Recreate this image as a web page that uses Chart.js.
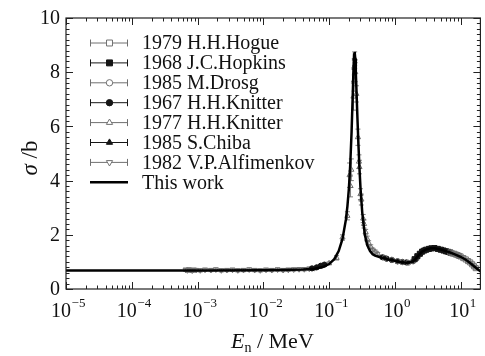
<!DOCTYPE html>
<html>
<head>
<meta charset="utf-8">
<script src="https://cdn.jsdelivr.net/npm/chart.js@4.4.1/dist/chart.umd.min.js"></script>
<style>
  html, body { margin: 0; padding: 0; background: #fff; }
  canvas { display: block; }
</style>
</head>
<body>
<canvas id="c" width="485" height="356"></canvas>
<script>
// ---- evaluated cross section (MeV, barn) ----
const curveE = [1e-5, 1e-4, 1e-3, 0.01, 0.02, 0.04, 0.06, 0.08, 0.10, 0.12, 0.14, 0.16, 0.18, 0.19,
  0.20, 0.21, 0.22, 0.23, 0.235, 0.24, 0.245, 0.25, 0.255, 0.26, 0.27, 0.28, 0.29, 0.30, 0.32,
  0.35, 0.38, 0.42, 0.46, 0.50, 0.60, 0.70, 0.80, 1.0, 1.2, 1.5, 1.8, 2.0, 2.3, 2.6, 3.0, 3.5,
  4.0, 5.0, 6.0, 7.0, 8.0, 10, 12, 14, 16, 18, 20];
const curveS = [0.68, 0.68, 0.68, 0.69, 0.70, 0.72, 0.75, 0.81, 0.92, 1.10, 1.40, 1.85, 2.55, 3.05,
  3.70, 4.60, 5.80, 7.30, 8.10, 8.65, 8.75, 8.50, 8.00, 7.45, 6.30, 5.30, 4.45, 3.75, 2.80,
  2.00, 1.62, 1.40, 1.28, 1.23, 1.17, 1.13, 1.09, 1.04, 1.00, 0.97, 1.00, 1.07, 1.25, 1.38, 1.46, 1.50,
  1.50, 1.46, 1.40, 1.34, 1.29, 1.19, 1.08, 0.96, 0.84, 0.74, 0.65];

// ---- measurements ----
const hogueE = [7.0, 7.5, 8.0, 8.5, 9.0, 9.5, 10, 11, 12, 13, 14, 15, 16, 17];
const hogueS = [1.35, 1.31, 1.30, 1.27, 1.25, 1.22, 1.20, 1.14, 1.09, 1.03, 0.98, 0.91, 0.84, 0.77];
const hogueErr = [0.04, 0.04, 0.04, 0.04, 0.04, 0.04, 0.04, 0.04, 0.04, 0.04, 0.04, 0.04, 0.04, 0.04];

const hopkinsE = [2.0, 2.2, 2.4, 2.6, 2.8, 3.0, 3.3, 3.6, 4.0, 4.5, 5.0, 5.5, 6.0, 6.5, 7.0];
const hopkinsS = [1.10, 1.21, 1.30, 1.38, 1.42, 1.45, 1.48, 1.50, 1.51, 1.48, 1.45, 1.42, 1.39, 1.37, 1.34];
const hopkinsErr = [0.03, 0.03, 0.03, 0.03, 0.03, 0.03, 0.03, 0.03, 0.03, 0.03, 0.03, 0.03, 0.03, 0.03, 0.03];

const drosgE = [0.70, 0.90, 1.10, 1.30, 1.60, 1.90, 2.20, 2.50];
const drosgS = [1.15, 1.08, 1.03, 0.99, 0.97, 1.02, 1.18, 1.33];
const drosgErr = [0.04, 0.04, 0.04, 0.04, 0.04, 0.04, 0.04, 0.04];

const knitter67E = [0.055, 0.065, 0.075, 0.085, 0.65, 0.75, 0.90, 1.10, 1.30, 1.50];
const knitter67S = [0.76, 0.80, 0.86, 0.90, 1.17, 1.12, 1.07, 1.02, 1.00, 0.98];
const knitter67Err = [0.04, 0.04, 0.04, 0.04, 0.04, 0.04, 0.04, 0.04, 0.04, 0.04];

const knitter77E = [0.10, 0.13, 0.16, 0.19, 0.205, 0.212, 0.218, 0.235, 0.24, 0.242, 0.245, 0.25, 0.26,
  0.275, 0.285, 0.29, 0.30, 0.31, 0.33, 0.34, 0.36, 0.38, 0.40, 0.43, 0.46, 0.50, 0.55];
const knitter77S = [0.95, 1.15, 1.90, 2.70, 4.20, 3.80, 4.40, 7.10, 7.70, 8.20, 8.50, 8.00, 7.20,
  5.60, 4.70, 4.50, 3.50, 3.30, 2.60, 2.40, 2.10, 1.85, 1.70, 1.55, 1.45, 1.38, 1.30];
const knitter77Err = [0.05, 0.08, 0.10, 0.15, 0.45, 0.40, 0.40, 0.50, 0.40, 0.30, 0.25, 0.35, 0.30,
  0.30, 0.25, 0.25, 0.20, 0.20, 0.15, 0.15, 0.10, 0.10, 0.08, 0.08, 0.06, 0.06, 0.05];

const chibaE = [1.8, 2.1, 2.4, 2.8, 3.2, 4.2, 5.5, 6.8];
const chibaS = [1.00, 1.12, 1.30, 1.42, 1.47, 1.50, 1.43, 1.36];
const chibaErr = [0.03, 0.03, 0.03, 0.03, 0.03, 0.03, 0.03, 0.03];

const alfimenkovE = [6.6e-4, 7.0e-4, 7.4e-4, 7.8e-4, 8.3e-4, 8.8e-4, 9.5e-4, 1.1e-3, 1.3e-3, 1.6e-3,
  1.9e-3, 2.3e-3, 2.8e-3, 3.4e-3, 4.1e-3, 5.0e-3, 6.1e-3, 7.4e-3, 9.0e-3, 0.011, 0.0135, 0.0165,
  0.020, 0.024, 0.029, 0.035, 0.042, 0.050, 0.060];
const alfimenkovS = [0.71, 0.69, 0.72, 0.70, 0.68, 0.71, 0.70, 0.69, 0.71, 0.70, 0.72, 0.69, 0.70,
  0.71, 0.69, 0.70, 0.72, 0.70, 0.69, 0.71, 0.70, 0.72, 0.70, 0.71, 0.72, 0.73, 0.73, 0.75, 0.77];
const alfimenkovErr = 0.06;

// ---- axes ----
const xMin = 1e-5, xMax = 20;
const yMin = 0, yMax = 10;
const yMajorTicks = [0, 2, 4, 6, 8, 10];
const xDecades = [-5, -4, -3, -2, -1, 0, 1];

const SERIF = '"Liberation Serif", "Times New Roman", serif';
const GREY = '#707070';
const DARK = '#151515';

function toPoints(E, S, err) {
  return E.map((e, i) => ({ x: e, y: S[i], err: Array.isArray(err) ? err[i] : (err || 0) }));
}

function measured(label, E, S, err, pointStyle, filled, color, radius, rotation) {
  return {
    label,
    data: toPoints(E, S, err),
    showLine: false,
    pointStyle,
    rotation: rotation || 0,
    pointRadius: radius,
    pointHoverRadius: radius,
    pointBorderWidth: 1,
    borderColor: color,
    backgroundColor: filled ? color : 'rgba(255,255,255,0)',
    pointBorderColor: color,
    pointBackgroundColor: filled ? color : 'rgba(255,255,255,0)',
    order: 5
  };
}

const datasets = [
  measured('1979 H.H.Hogue', hogueE, hogueS, hogueErr, 'rect', false, GREY, 3.6),
  measured('1968 J.C.Hopkins', hopkinsE, hopkinsS, hopkinsErr, 'rect', true, DARK, 3.6),
  measured('1985 M.Drosg', drosgE, drosgS, drosgErr, 'circle', false, GREY, 2.6),
  measured('1967 H.H.Knitter', knitter67E, knitter67S, knitter67Err, 'circle', true, DARK, 2.6),
  measured('1977 H.H.Knitter', knitter77E, knitter77S, knitter77Err, 'triangle', false, GREY, 3.0),
  measured('1985 S.Chiba', chibaE, chibaS, chibaErr, 'triangle', true, DARK, 3.0),
  measured('1982 V.P.Alfimenkov', alfimenkovE, alfimenkovS, alfimenkovErr, 'triangle', false, GREY, 3.0, 180),
  {
    label: 'This work',
    data: toPoints(curveE, curveS, 0),
    showLine: true,
    borderColor: '#000',
    borderWidth: 2.5,
    pointRadius: 0,
    pointHoverRadius: 0,
    tension: 0,
    fill: false,
    order: 0
  }
];

// error bars, drawn underneath the markers
const errorBars = {
  id: 'errorBars',
  beforeDatasetsDraw(chart) {
    const { ctx, scales: { x, y } } = chart;
    ctx.save();
    chart.data.datasets.forEach(ds => {
      if (ds.showLine) return;
      ctx.strokeStyle = ds.borderColor;
      ctx.lineWidth = 0.9;
      ds.data.forEach(p => {
        if (!p.err) return;
        const px = x.getPixelForValue(p.x);
        const top = y.getPixelForValue(p.y + p.err);
        const bot = y.getPixelForValue(p.y - p.err);
        ctx.beginPath();
        ctx.moveTo(px, top); ctx.lineTo(px, bot);
        ctx.moveTo(px - 2.5, top); ctx.lineTo(px + 2.5, top);
        ctx.moveTo(px - 2.5, bot); ctx.lineTo(px + 2.5, bot);
        ctx.stroke();
      });
    });
    ctx.restore();
  }
};

// frame, inward ticks, tick labels, axis titles and legend
const frame = {
  id: 'frame',
  afterDraw(chart) {
    const { ctx, chartArea: a, scales: { x, y } } = chart;
    ctx.save();
    ctx.strokeStyle = '#222';
    ctx.lineWidth = 1.2;
    ctx.strokeRect(a.left, a.top, a.right - a.left, a.bottom - a.top);

    ctx.lineWidth = 1;
    ctx.beginPath();
    // x ticks (bottom and top, pointing inwards)
    xDecades.forEach(d => {
      for (let k = 1; k <= 9; k++) {
        const v = k * Math.pow(10, d);
        if (v < xMin || v > xMax) continue;
        const px = Math.round(x.getPixelForValue(v)) + 0.5;
        const len = k === 1 ? 7 : 3.5;
        ctx.moveTo(px, a.bottom); ctx.lineTo(px, a.bottom - len);
        ctx.moveTo(px, a.top); ctx.lineTo(px, a.top + len);
      }
    });
    // y ticks (left and right, pointing inwards)
    for (let i = 0; i <= 50; i++) {
      const v = yMin + i * 0.2;
      const py = Math.round(y.getPixelForValue(v)) + 0.5;
      const len = i % 10 === 0 ? 7 : 3.5;
      ctx.moveTo(a.left, py); ctx.lineTo(a.left + len, py);
      ctx.moveTo(a.right, py); ctx.lineTo(a.right - len, py);
    }
    ctx.stroke();

    ctx.fillStyle = '#111';
    // y tick labels
    ctx.font = '20px ' + SERIF;
    ctx.textAlign = 'right';
    ctx.textBaseline = 'middle';
    yMajorTicks.forEach(v => ctx.fillText(String(v), a.left - 6, y.getPixelForValue(v) + 1));

    // x tick labels: 10 with a superscript exponent
    ctx.textAlign = 'left';
    ctx.textBaseline = 'alphabetic';
    xDecades.forEach(d => {
      const px = x.getPixelForValue(Math.pow(10, d));
      const exp = d < 0 ? '\u2212' + Math.abs(d) : String(d);
      ctx.font = '20px ' + SERIF;
      const wb = ctx.measureText('10').width;
      ctx.font = '13px ' + SERIF;
      const we = ctx.measureText(exp).width;
      const x0 = px - (wb + we) / 2 + 2;
      ctx.font = '20px ' + SERIF;
      ctx.fillText('10', x0, 317);
      ctx.font = '13px ' + SERIF;
      ctx.fillText(exp, x0 + wb + 0.5, 307);
    });

    // x axis title: E_n / MeV
    let tx = 231;
    ctx.font = 'italic 22px ' + SERIF;
    ctx.fillText('E', tx, 348);
    tx += ctx.measureText('E').width;
    ctx.font = '14px ' + SERIF;
    ctx.fillText('n', tx, 352);
    tx += ctx.measureText('n').width;
    ctx.font = '22px ' + SERIF;
    ctx.fillText(' / MeV', tx, 348);

    // y axis title: sigma / b (rotated)
    ctx.save();
    ctx.translate(36.5, 158);
    ctx.rotate(-Math.PI / 2);
    ctx.font = 'italic 23px ' + SERIF;
    const ws = ctx.measureText('\u03c3').width;
    ctx.font = '23px ' + SERIF;
    const wr = ctx.measureText(' /b').width;
    const sx = -(ws + wr) / 2;
    ctx.font = 'italic 23px ' + SERIF;
    ctx.fillText('\u03c3', sx, 0);
    ctx.font = '23px ' + SERIF;
    ctx.fillText(' /b', sx + ws, 0);
    ctx.restore();

    // legend
    const rowTop = 43, rowGap = 19.9;
    const lx0 = 90, lx1 = 128, lmid = 109.5, textX = 142;
    chart.data.datasets.forEach((ds, i) => {
      const ry = rowTop + i * rowGap;
      if (ds.showLine) {
        ctx.strokeStyle = ds.borderColor;
        ctx.lineWidth = ds.borderWidth;
        ctx.beginPath();
        ctx.moveTo(lx0, ry); ctx.lineTo(lx1, ry);
        ctx.stroke();
      } else {
        ctx.strokeStyle = ds.borderColor;
        ctx.lineWidth = 1;
        ctx.beginPath();
        ctx.moveTo(lx0, ry); ctx.lineTo(lx1, ry);
        ctx.moveTo(lx0 + 0.5, ry - 3.5); ctx.lineTo(lx0 + 0.5, ry + 3.5);
        ctx.moveTo(lx1 - 0.5, ry - 3.5); ctx.lineTo(lx1 - 0.5, ry + 3.5);
        ctx.stroke();
        ctx.fillStyle = ds.pointBackgroundColor === 'rgba(255,255,255,0)' ? '#fff' : ds.pointBackgroundColor;
        ctx.strokeStyle = ds.pointBorderColor;
        ctx.lineWidth = 1;
        Chart.helpers.drawPoint(ctx, {
          pointStyle: ds.pointStyle,
          rotation: ds.rotation,
          radius: ds.pointRadius + 0.6,
          borderWidth: 1
        }, lmid, ry);
      }
      ctx.fillStyle = '#111';
      ctx.font = '20px ' + SERIF;
      ctx.textAlign = 'left';
      ctx.textBaseline = 'middle';
      ctx.fillText(ds.label, textX, ry + 1);
    });
    ctx.restore();
  }
};

new Chart(document.getElementById('c'), {
  type: 'scatter',
  data: { datasets },
  options: {
    responsive: false,
    devicePixelRatio: 1,
    animation: false,
    layout: { padding: { left: 66, right: 1, top: 18, bottom: 67 } },
    plugins: { legend: { display: false }, tooltip: { enabled: false } },
    scales: {
      x: { type: 'logarithmic', min: xMin, max: xMax, display: false },
      y: { type: 'linear', min: yMin, max: yMax, display: false }
    }
  },
  plugins: [errorBars, frame]
});
</script>
</body>
</html>
